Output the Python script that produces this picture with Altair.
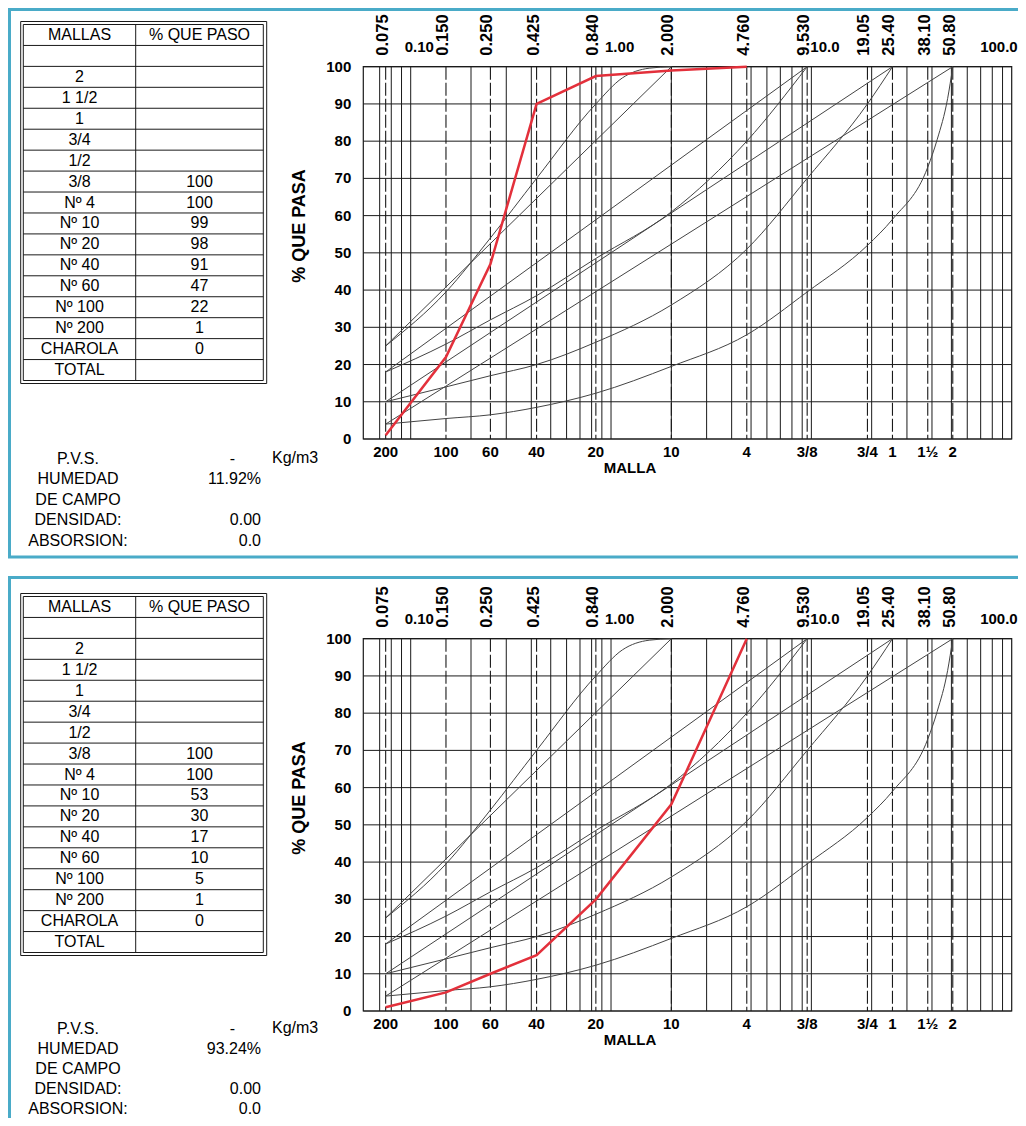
import altair as alt
import pandas as pd

# ---------------- data ----------------
TABLE_MALLAS = ["MALLAS", "", "2", "1 1/2", "1", "3/4", "1/2", "3/8", "Nº 4", "Nº 10",
                "Nº 20", "Nº 40", "Nº 60", "Nº 100", "Nº 200", "CHAROLA", "TOTAL"]
TABLE_PASO_1 = ["% QUE PASO", "", "", "", "", "", "", "100", "100", "99", "98", "91",
                "47", "22", "1", "0", ""]
TABLE_PASO_2 = ["% QUE PASO", "", "", "", "", "", "", "100", "100", "53", "30", "17",
                "10", "5", "1", "0", ""]

INFO_LABELS = ["P.V.S.", "HUMEDAD", "DE CAMPO", "DENSIDAD:", "ABSORSION:"]
INFO_VALUES_1 = ["", "11.92%", "", "0.00", "0.0"]
INFO_VALUES_2 = ["", "93.24%", "", "0.00", "0.0"]
PVS_VALUE = "-"
PVS_UNIT = "Kg/m3"

SIEVE_MM = [0.075, 0.150, 0.250, 0.425, 0.840, 2.000, 4.760, 9.530, 19.05, 25.40, 38.10, 50.80]
SIEVE_MM_LABELS = ["0.075", "0.150", "0.250", "0.425", "0.840", "2.000", "4.760", "9.530",
                   "19.05", "25.40", "38.10", "50.80"]
SIEVE_NAMES = ["200", "100", "60", "40", "20", "10", "4", "3/8", "3/4", "1", "1½", "2"]
DECADE_VALUES_A = [0.1, 1]
DECADE_LABELS_A = ["0.10", "1.00"]
DECADE_VALUES_B = [10]
DECADE_LABELS_B = ["10.0"]
LAST_DECADE_VALUE = [100]
LAST_DECADE_LABEL = ["100.0"]
MINOR_GRID = [0.07, 0.08, 0.09, 0.1, 0.2, 0.3, 0.4, 0.5, 0.6, 0.7, 0.8, 0.9,
              1, 2, 3, 4, 5, 6, 7, 8, 9, 10, 20, 30, 40, 50, 60, 70, 80, 90]
PCT_TICKS = [0, 10, 20, 30, 40, 50, 60, 70, 80, 90, 100]
X_DOMAIN = [0.058, 100]

# reference (envelope) curves
REF_A_X = [0.075, 0.15, 0.25, 0.425, 0.84, 1.14, 1.55, 2.0]
REF_A_Y = [25, 39.5, 54, 70, 90, 97, 99.6, 100]
REF_B_X = [0.075, 2.0]
REF_B_Y = [25, 100]
REF_C_X = [0.075, 9.53]
REF_C_Y = [18, 100]
REF_D_X = [0.075, 0.15, 0.25, 0.425, 0.84, 2.0, 4.76, 9.53]
REF_D_Y = [18, 25.5, 32, 38.5, 48.5, 61, 80, 100]
REF_E_X = [0.075, 25.4]
REF_E_Y = [10, 100]
REF_F_X = [0.075, 0.15, 0.25, 0.425, 0.84, 2.0, 4.76, 9.53, 19.05, 25.4]
REF_F_Y = [10, 14, 17, 20, 26, 36, 51, 70, 90, 100]
REF_G_X = [0.075, 50.8]
REF_G_Y = [4, 100]
REF_H_X = [0.075, 0.15, 0.25, 0.425, 0.84, 2.0, 4.76, 9.53, 19.05, 25.4, 38.1, 42.5, 47.9, 50.8]
REF_H_Y = [4, 5.5, 6.5, 8.5, 12.3, 19.5, 28, 39.5, 52, 59, 73, 80.5, 91.5, 100]

RED_X = [0.075, 0.15, 0.25, 0.425, 0.84, 2.0, 4.76]
RED_Y_1 = [1, 22, 47, 90, 97.5, 99, 100]
RED_Y_2 = [1, 5, 10, 15, 30, 55.5, 100]

# ---------------- layout / style ----------------
W, H = 1010, 1110
PANEL2_OFFSET = 572
PX0, PX1 = 355.3, 1003.7
PY_TOP, PY_BOT = 58.7, 431.0
T_X0O, T_X1O, T_Y0O, T_Y1O = 12.7, 258.7, 13.5, 375.5
T_X0, T_X1, T_Y0, T_Y1 = 15.3, 255.3, 16.5, 372.5
T_DIV = 127.7
T_C1, T_C2 = 71.5, 191.5
TEAL = "#4aabc8"
INK = "#1a1a1a"
CURVE = "#444444"
RED = "#e3303b"
FONT = "Liberation Sans"

ONE = pd.DataFrame({"a": [0]})


def ref_df():
    rows = []
    for name, xv, yv in [("A", REF_A_X, REF_A_Y), ("B", REF_B_X, REF_B_Y),
                         ("C", REF_C_X, REF_C_Y), ("D", REF_D_X, REF_D_Y),
                         ("E", REF_E_X, REF_E_Y), ("F", REF_F_X, REF_F_Y),
                         ("G", REF_G_X, REF_G_Y), ("H", REF_H_X, REF_H_Y)]:
        for i, (a, b) in enumerate(zip(xv, yv)):
            rows.append({"curve": name, "mm": a, "pct": b, "o": i})
    return pd.DataFrame(rows)


def panel(paso, info_vals, red_y, oy, top_border_y, bottom_border, info_range):
    xs = alt.Scale(type="log", domain=X_DOMAIN, range=[PX0, PX1], nice=False)
    ys = alt.Scale(domain=[0, 100], range=[oy + PY_BOT, oy + PY_TOP], nice=False, zero=False)
    L = []
    # panel frame (teal)
    L.append(alt.Chart(ONE).mark_rule(color=TEAL, strokeWidth=3).encode(
        x=alt.value(0), x2=alt.value(W), y=alt.value(oy + top_border_y)))
    L.append(alt.Chart(ONE).mark_rule(color=TEAL, strokeWidth=3).encode(
        x=alt.value(1.5), y=alt.value(oy + top_border_y - 1.5),
        y2=alt.value(oy + (549 if bottom_border else 540))))
    if bottom_border:
        L.append(alt.Chart(ONE).mark_rule(color=TEAL, strokeWidth=3).encode(
            x=alt.value(0), x2=alt.value(W), y=alt.value(oy + 549)))

    # ---- table ----
    ts = alt.Scale(domain=[0, 17], range=[oy + T_Y0, oy + T_Y1], nice=False, zero=False)
    L.append(alt.Chart(ONE).mark_rect(filled=False, stroke=INK, strokeWidth=1).encode(
        x=alt.value(T_X0O), x2=alt.value(T_X1O), y=alt.value(oy + T_Y0O), y2=alt.value(oy + T_Y1O)))
    L.append(alt.Chart(ONE).mark_rect(filled=False, stroke=INK, strokeWidth=1).encode(
        x=alt.value(T_X0), x2=alt.value(T_X1), y=alt.value(oy + T_Y0), y2=alt.value(oy + T_Y1)))
    L.append(alt.Chart(pd.DataFrame({"r": list(range(1, 17))})).mark_rule(
        color=INK, strokeWidth=1).encode(
        y=alt.Y("r:Q", scale=ts, axis=None), x=alt.value(T_X0), x2=alt.value(T_X1)))
    L.append(alt.Chart(ONE).mark_rule(color=INK, strokeWidth=1).encode(
        x=alt.value(T_DIV), y=alt.value(oy + T_Y0), y2=alt.value(oy + T_Y1)))
    tdf = pd.DataFrame({"r": list(range(17)), "m": TABLE_MALLAS, "p": paso})
    base_t = alt.Chart(tdf).transform_calculate(rc="datum.r + 0.5")
    L.append(base_t.mark_text(font=FONT, fontSize=16, color="black", baseline="middle").encode(
        y=alt.Y("rc:Q", scale=ts, axis=None), x=alt.value(T_C1), text="m:N"))
    L.append(base_t.mark_text(font=FONT, fontSize=16, color="black", baseline="middle").encode(
        y=alt.Y("rc:Q", scale=ts, axis=None), x=alt.value(T_C2), text="p:N"))

    # ---- info block ----
    iscale = alt.Scale(domain=[0, 4], range=[oy + info_range[0], oy + info_range[1]],
                       nice=False, zero=False)
    idf = pd.DataFrame({"i": list(range(5)), "lab": INFO_LABELS, "val": info_vals})
    L.append(alt.Chart(idf).mark_text(font=FONT, fontSize=16, color="black",
                                      baseline="middle", align="center").encode(
        y=alt.Y("i:Q", scale=iscale, axis=None), x=alt.value(70), text="lab:N"))
    L.append(alt.Chart(idf).mark_text(font=FONT, fontSize=16, color="black",
                                      baseline="middle", align="right").encode(
        y=alt.Y("i:Q", scale=iscale, axis=None), x=alt.value(253), text="val:N"))
    L.append(alt.Chart(pd.DataFrame({"t": [PVS_VALUE]})).mark_text(
        font=FONT, fontSize=16, color="black", baseline="middle", align="right").encode(
        x=alt.value(227), y=alt.value(oy + info_range[0]), text="t:N"))
    L.append(alt.Chart(pd.DataFrame({"t": [PVS_UNIT]})).mark_text(
        font=FONT, fontSize=16, color="black", baseline="middle", align="left").encode(
        x=alt.value(264), y=alt.value(oy + info_range[0] - 0.5), text="t:N"))

    # ---- plot grid ----
    L.append(alt.Chart(pd.DataFrame({"p": PCT_TICKS})).mark_rule(color=INK, strokeWidth=1).encode(
        y=alt.Y("p:Q", scale=ys, axis=None), x=alt.value(PX0), x2=alt.value(PX1)))
    L.append(alt.Chart(pd.DataFrame({"mm": MINOR_GRID})).mark_rule(color=INK, strokeWidth=1).encode(
        x=alt.X("mm:Q", scale=xs, axis=None), y=alt.value(oy + PY_TOP), y2=alt.value(oy + PY_BOT)))
    L.append(alt.Chart(pd.DataFrame({"mm": SIEVE_MM})).mark_rule(
        color=INK, strokeWidth=1.1, strokeDash=[13, 3]).encode(
        x=alt.X("mm:Q", scale=xs, axis=None), y=alt.value(oy + PY_TOP), y2=alt.value(oy + PY_BOT)))
    L.append(alt.Chart(ONE).mark_rect(filled=False, stroke=INK, strokeWidth=1.2).encode(
        x=alt.value(PX0), x2=alt.value(PX1), y=alt.value(oy + PY_TOP), y2=alt.value(oy + PY_BOT)))

    # ---- reference curves ----
    L.append(alt.Chart(ref_df()).mark_line(color=CURVE, strokeWidth=1, interpolate="monotone").encode(
        x=alt.X("mm:Q", scale=xs, axis=None), y=alt.Y("pct:Q", scale=ys, axis=None),
        detail="curve:N", order="o:Q"))

    # ---- sample curve ----
    rdf = pd.DataFrame({"mm": RED_X, "pct": red_y})
    L.append(alt.Chart(rdf).mark_line(color=RED, strokeWidth=2.5).encode(
        x=alt.X("mm:Q", scale=xs, axis=None), y=alt.Y("pct:Q", scale=ys, axis=None)))

    # ---- labels ----
    L.append(alt.Chart(pd.DataFrame({"p": PCT_TICKS})).mark_text(
        font=FONT, fontWeight="bold", fontSize=15, align="right", baseline="middle").encode(
        y=alt.Y("p:Q", scale=ys, axis=None), x=alt.value(PX0 - 12), text="p:Q"))
    sdf = pd.DataFrame({"mm": SIEVE_MM, "mmlab": SIEVE_MM_LABELS, "name": SIEVE_NAMES})
    L.append(alt.Chart(sdf).mark_text(
        font=FONT, fontWeight="bold", fontSize=15, align="center", baseline="middle").encode(
        x=alt.X("mm:Q", scale=xs, axis=None), y=alt.value(oy + PY_BOT + 13), text="name:N"))
    L.append(alt.Chart(sdf).mark_text(
        font=FONT, fontWeight="bold", fontSize=16.5, align="left", baseline="middle",
        angle=270, dy=-3).encode(
        x=alt.X("mm:Q", scale=xs, axis=None), y=alt.value(oy + PY_TOP - 11), text="mmlab:N"))
    L.append(alt.Chart(pd.DataFrame({"mm": DECADE_VALUES_A, "t": DECADE_LABELS_A})).mark_text(
        font=FONT, fontWeight="bold", fontSize=15, align="left", baseline="middle", dx=-6).encode(
        x=alt.X("mm:Q", scale=xs, axis=None), y=alt.value(oy + PY_TOP - 20), text="t:N"))
    L.append(alt.Chart(pd.DataFrame({"mm": DECADE_VALUES_B, "t": DECADE_LABELS_B})).mark_text(
        font=FONT, fontWeight="bold", fontSize=15, align="left", baseline="middle", dx=-1).encode(
        x=alt.X("mm:Q", scale=xs, axis=None), y=alt.value(oy + PY_TOP - 20), text="t:N"))
    L.append(alt.Chart(pd.DataFrame({"mm": LAST_DECADE_VALUE, "t": LAST_DECADE_LABEL})).mark_text(
        font=FONT, fontWeight="bold", fontSize=15, align="right", baseline="middle", dx=6).encode(
        x=alt.X("mm:Q", scale=xs, axis=None), y=alt.value(oy + PY_TOP - 20), text="t:N"))
    L.append(alt.Chart(pd.DataFrame({"t": ["MALLA"]})).mark_text(
        font=FONT, fontWeight="bold", fontSize=15, align="center", baseline="middle").encode(
        x=alt.value(622), y=alt.value(oy + PY_BOT + 29), text="t:N"))
    L.append(alt.Chart(pd.DataFrame({"t": ["% QUE PASA"]})).mark_text(
        font=FONT, fontWeight="bold", fontSize=18, align="center", baseline="middle", angle=270).encode(
        x=alt.value(292), y=alt.value(oy + 218), text="t:N"))
    return L


layers = (panel(TABLE_PASO_1, INFO_VALUES_1, RED_Y_1, 0, 1.5, True, (450.5, 532.5))
          + panel(TABLE_PASO_2, INFO_VALUES_2, RED_Y_2, PANEL2_OFFSET, -2.5, False, (448.5, 528.5)))

chart = alt.layer(*layers).resolve_scale(x="independent", y="independent").properties(
    width=W, height=H, padding=0, background="white",
    autosize=alt.AutoSizeParams(type="none")).configure_view(strokeWidth=0)

chart.save("out.html", embed_options={"renderer": "svg", "actions": False})
